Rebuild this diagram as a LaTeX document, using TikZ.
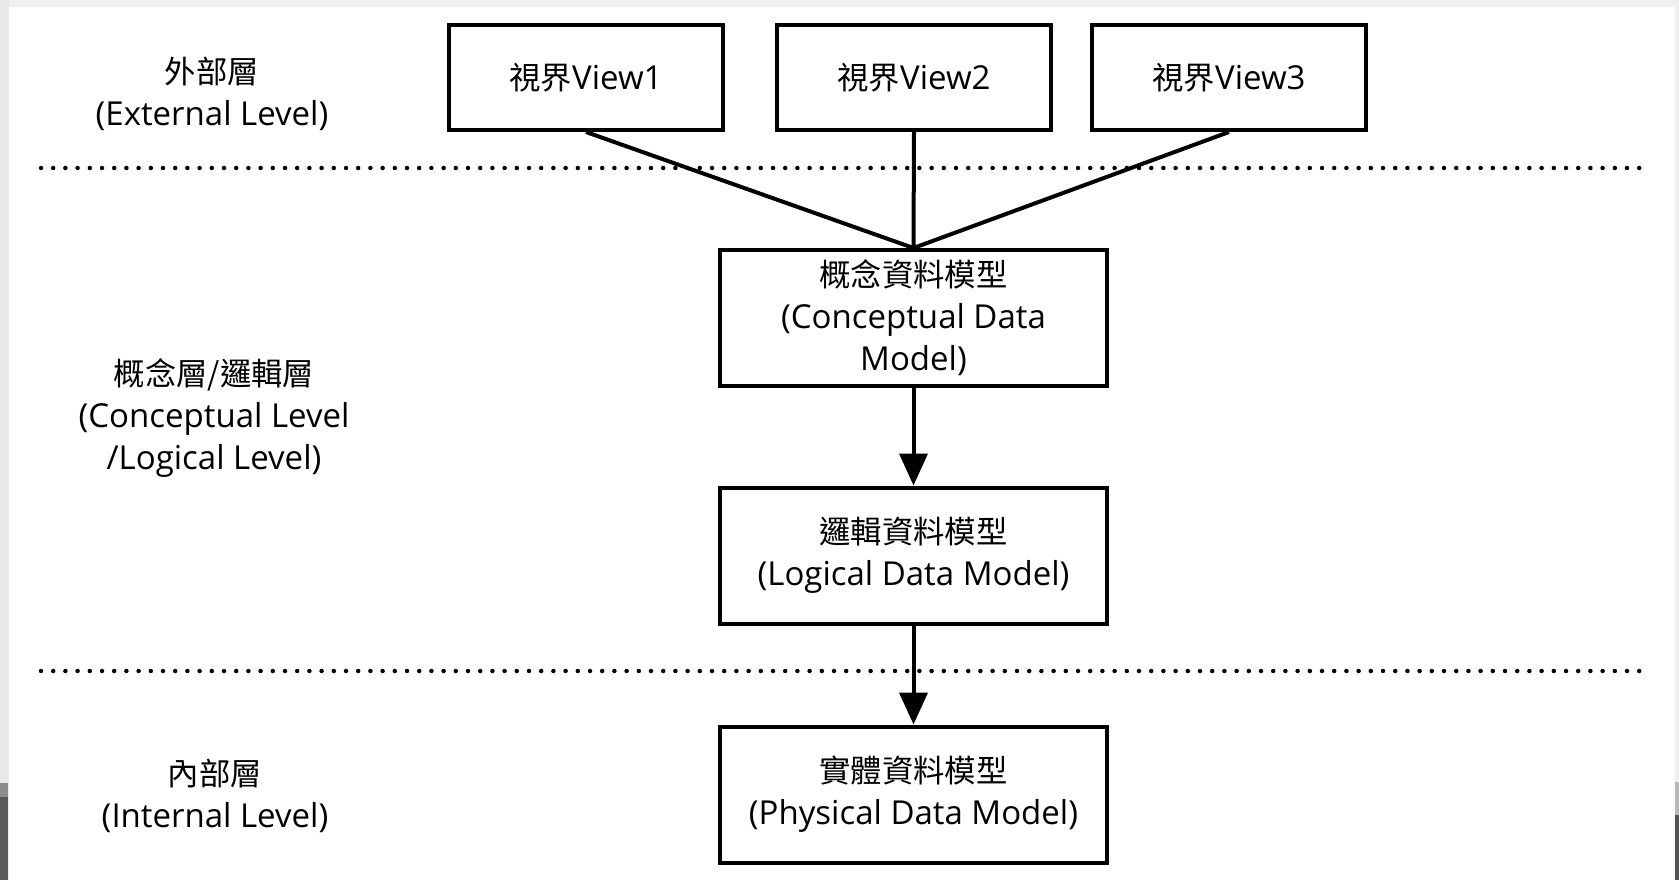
\documentclass[tikz,border=0pt]{standalone}
\usepackage{fontspec}
\setmainfont{Open Sans}
\newfontfamily\cjk{Noto Sans CJK TC}[Scale=0.95]
\usetikzlibrary{arrows.meta}
\tikzset{
  txt/.style={font=\fontsize{33}{42}\selectfont},
  box/.style={draw=black, line width=4pt, fill=white, align=center,
    inner sep=0pt, txt},
  viewbox/.style={box, minimum width=274pt, minimum height=105pt},
  modelbox/.style={box, minimum width=387pt, minimum height=136pt},
  levellabel/.style={align=center, inner sep=0pt, txt},
  link/.style={line width=4pt},
  flow/.style={line width=4pt, -{Triangle[width=28pt,length=32pt]}},
  separator/.style={line width=4.5pt, line cap=round, dash pattern=on 0pt off 12.2pt}
}
\begin{document}
\begin{tikzpicture}[x=1pt,y=-1pt]
  \useasboundingbox (0,0) rectangle (1679,880);
  % page frame
  \fill[white] (0,0) rectangle (1679,880);
  \fill[black!6] (0,0) rectangle (1679,7);
  \fill[black!9] (0,0) rectangle (9,880);
  \fill[black!6] (1675,0) rectangle (1679,880);
  \fill[black!45] (0,783) rectangle (8,797);
  \fill[black!65] (0,797) rectangle (8,880);
  \fill[black!28] (1675,782) rectangle (1679,815);
  \fill[black!68] (1675,815) rectangle (1679,880);

  % level separators
  \coordinate (s1a) at (41,168);
  \coordinate (s1b) at (1640,168);
  \coordinate (s2a) at (41,671);
  \coordinate (s2b) at (1640,671);
  \draw[separator] (s1a) -- (s1b);
  \draw[separator] (s2a) -- (s2b);

  % level labels
  \node[levellabel] (ext) at (212,94) {{\cjk 外部層}\\(External Level)};
  \node[levellabel] (con) at (214,418) {{\cjk 概念層/邏輯層}\\(Conceptual Level\\/Logical Level)};
  \node[levellabel] (int) at (215,796) {{\cjk 內部層}\\(Internal Level)};

  % external views
  \node[viewbox] (v1) at (586,77.5) {{\cjk 視界}View1};
  \node[viewbox] (v2) at (914,77.5) {{\cjk 視界}View2};
  \node[viewbox] (v3) at (1229,77.5) {{\cjk 視界}View3};

  % data models
  \node[modelbox] (cdm) at (913.5,318) {{\cjk 概念資料模型}\\(Conceptual Data\\Model)};
  \node[modelbox] (ldm) at (913.5,555.5) {{\cjk 邏輯資料模型}\\(Logical Data Model)};
  \node[modelbox] (pdm) at (913.5,794.5) {{\cjk 實體資料模型}\\(Physical Data Model)};

  % connectors
  \draw[link] (v1.south) -- (cdm.north);
  \draw[link] (v2.south) -- (cdm.north);
  \draw[link] (v3.south) -- (cdm.north);
  \draw[flow] (cdm.south) -- (ldm.north);
  \draw[flow] (ldm.south) -- (pdm.north);
\end{tikzpicture}
\end{document}
